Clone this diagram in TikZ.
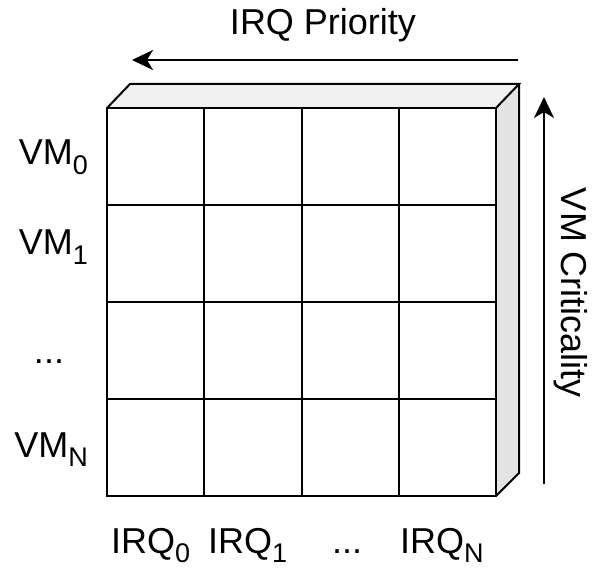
\documentclass[tikz,border=0pt]{standalone}
\usepackage{fontspec}
\setmainfont{Liberation Sans}
\usetikzlibrary{arrows.meta}
\newcommand{\subsc}[1]{{\fontsize{27}{27}\selectfont\raisebox{-9.5pt}{#1}}}
\begin{document}
\begin{tikzpicture}[x=1pt,y=1pt,
  edge/.style={line width=2pt, line join=miter},
  lbl/.style={font=\fontsize{36}{36}\selectfont, inner sep=0pt, anchor=base},
  flow/.style={line width=2pt, -{Stealth[length=21pt,width=20pt,inset=6pt]}}]
\useasboundingbox (0,0) rectangle (597,568);
% box faces
\fill[fill=gray!12] (107,460) -- (130,484) -- (519,484) -- (496,460) -- cycle;
\fill[fill=gray!22] (496,460) -- (519,484) -- (519,95) -- (496,72) -- cycle;
\draw[edge] (107,460) -- (130,484) -- (519,484) -- (496,460);
\draw[edge] (519,484) -- (519,95) -- (496,72);
% front grid
\draw[edge] (107,72) rectangle (496,460);
\foreach \i in {1,2,3} {
  \draw[edge] (107+97.25*\i,72) -- (107+97.25*\i,460);
  \draw[edge] (107,72+97*\i) -- (496,72+97*\i);
}
% axes
\coordinate (pS) at (518,508);
\coordinate (pE) at (132,508);
\draw[flow] (pS) -- (pE);
\node[lbl] (prio) at (323,533) {IRQ Priority};
\coordinate (cS) at (544,84);
\coordinate (cE) at (544,471);
\draw[flow] (cS) -- (cE);
\node[lbl, rotate=-90, anchor=center] (crit) at (571,275) {VM Criticality};
% row labels
\node[lbl, anchor=base east] (vm0) at (88,403) {VM\subsc{0}};
\node[lbl, anchor=base east] (vm1) at (88,313) {VM\subsc{1}};
\node[lbl] (vmd) at (49,204) {...};
\node[lbl, anchor=base east] (vmn) at (88,111) {VM\subsc{N}};
% column labels
\node[lbl, anchor=base west] (q0) at (111,15) {IRQ\subsc{0}};
\node[lbl, anchor=base west] (q1) at (208,15) {IRQ\subsc{1}};
\node[lbl] (qd) at (347,15) {...};
\node[lbl, anchor=base west] (qn) at (400,15) {IRQ\subsc{N}};
\end{tikzpicture}
\end{document}
